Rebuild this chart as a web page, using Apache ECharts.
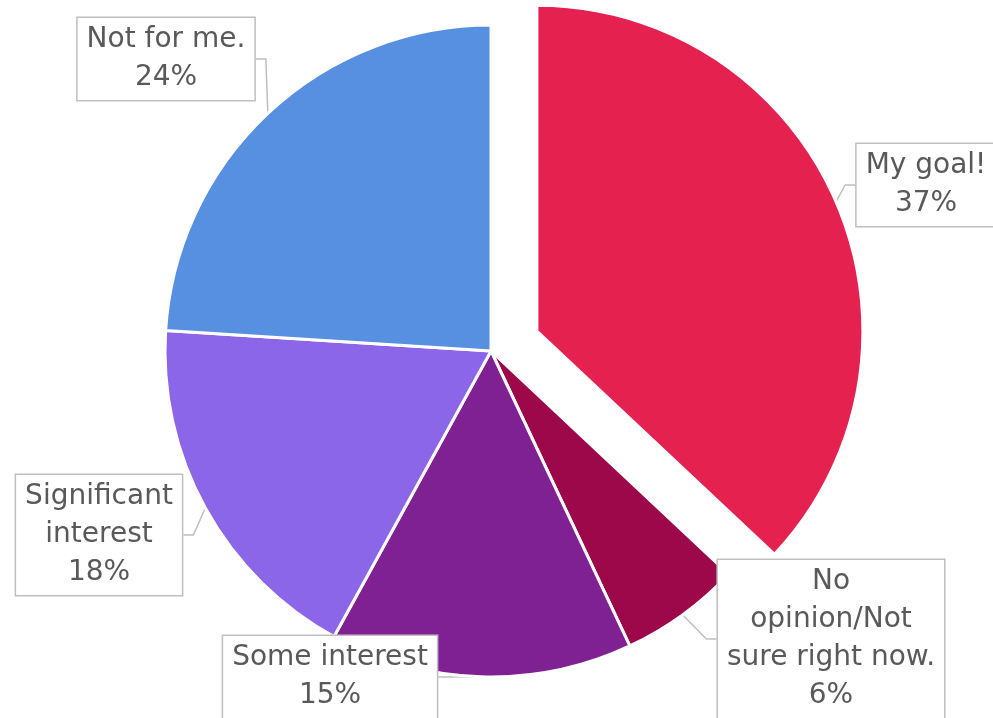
<!DOCTYPE html>
<html>
<head>
<meta charset="utf-8">
<script src="https://cdn.jsdelivr.net/npm/echarts@6/dist/echarts.min.js"></script>
<style>
  html, body { margin: 0; padding: 0; background: #fff; }
  #chart { width: 993px; height: 718px; }
</style>
</head>
<body>
<div id="chart"></div>
<script>
// Survey answers, clockwise from 12 o'clock
const categories = [
  'My goal!',
  'No\nopinion/Not\nsure right now.',
  'Some interest',
  'Significant\ninterest',
  'Not for me.'
];
const shares = [37, 6, 15, 18, 24];
const colors = ['#E4214F', '#9C0849', '#7F2193', '#8C66E8', '#5790E0'];
// Callout box centres, one per slice
const calloutCenters = [
  [926, 185],
  [831, 639],
  [330, 677],
  [99, 535],
  [166, 59]
];

const CENTER = [491, 351];
const RADIUS = 326;
const EXPLODE = 50; // pull-out distance of the first slice

const total = shares.reduce((a, b) => a + b, 0);
const midAngle = (shares[0] / 2) / total * 2 * Math.PI; // measured clockwise from 12 o'clock
const explodedCenter = [
  CENTER[0] + EXPLODE * Math.sin(midAngle),
  CENTER[1] - EXPLODE * Math.cos(midAngle)
];

const hidden = {
  itemStyle: { color: 'rgba(0,0,0,0)', borderWidth: 0 },
  label: { show: false },
  labelLine: { show: false }
};

const labelStyle = {
  show: true,
  position: 'outside',
  formatter: '{b}\n{c}%',
  color: '#595959',
  fontFamily: 'DejaVu Sans',
  fontSize: 28,
  lineHeight: 38,
  align: 'center',
  backgroundColor: '#ffffff',
  borderColor: '#bfbfbf',
  borderWidth: 1.5,
  padding: [6, 9, 0, 9]
};

const labelLineStyle = {
  show: true,
  length: 10,
  length2: 10,
  lineStyle: { color: '#bfbfbf', width: 1.5 }
};

// Places each callout box; slot maps a data index to a category index
function layoutFor(slot) {
  return function (params) {
    const k = slot(params.dataIndex);
    if (k < 0 || k >= calloutCenters.length) return {};
    const c = calloutCenters[k];
    return { x: c[0], y: c[1], align: 'center', verticalAlign: 'middle' };
  };
}

const chart = echarts.init(document.getElementById('chart'), null, { renderer: 'canvas' });

// Exploded slice: first category plus an invisible remainder
const explodedData = [
  { name: categories[0], value: shares[0], itemStyle: { color: colors[0] } },
  Object.assign({ name: '', value: total - shares[0] }, hidden)
];

// Remaining slices, with an invisible gap where the first one sits
const restData = [Object.assign({ name: '', value: shares[0] }, hidden)].concat(
  categories.slice(1).map((name, i) => ({
    name: name,
    value: shares[i + 1],
    itemStyle: { color: colors[i + 1] }
  }))
);

const common = {
  type: 'pie',
  radius: RADIUS,
  startAngle: 90,
  clockwise: true,
  avoidLabelOverlap: false,
  silent: true,
  emphasis: { disabled: true },
  itemStyle: { borderColor: '#ffffff', borderWidth: 3 },
  label: labelStyle,
  labelLine: labelLineStyle
};

chart.setOption({
  animation: false,
  series: [
    Object.assign({}, common, {
      center: explodedCenter,
      data: explodedData,
      labelLayout: layoutFor(i => (i === 0 ? 0 : -1))
    }),
    Object.assign({}, common, {
      center: CENTER,
      data: restData,
      labelLayout: layoutFor(i => (i === 0 ? -1 : i))
    })
  ]
});
</script>
</body>
</html>
